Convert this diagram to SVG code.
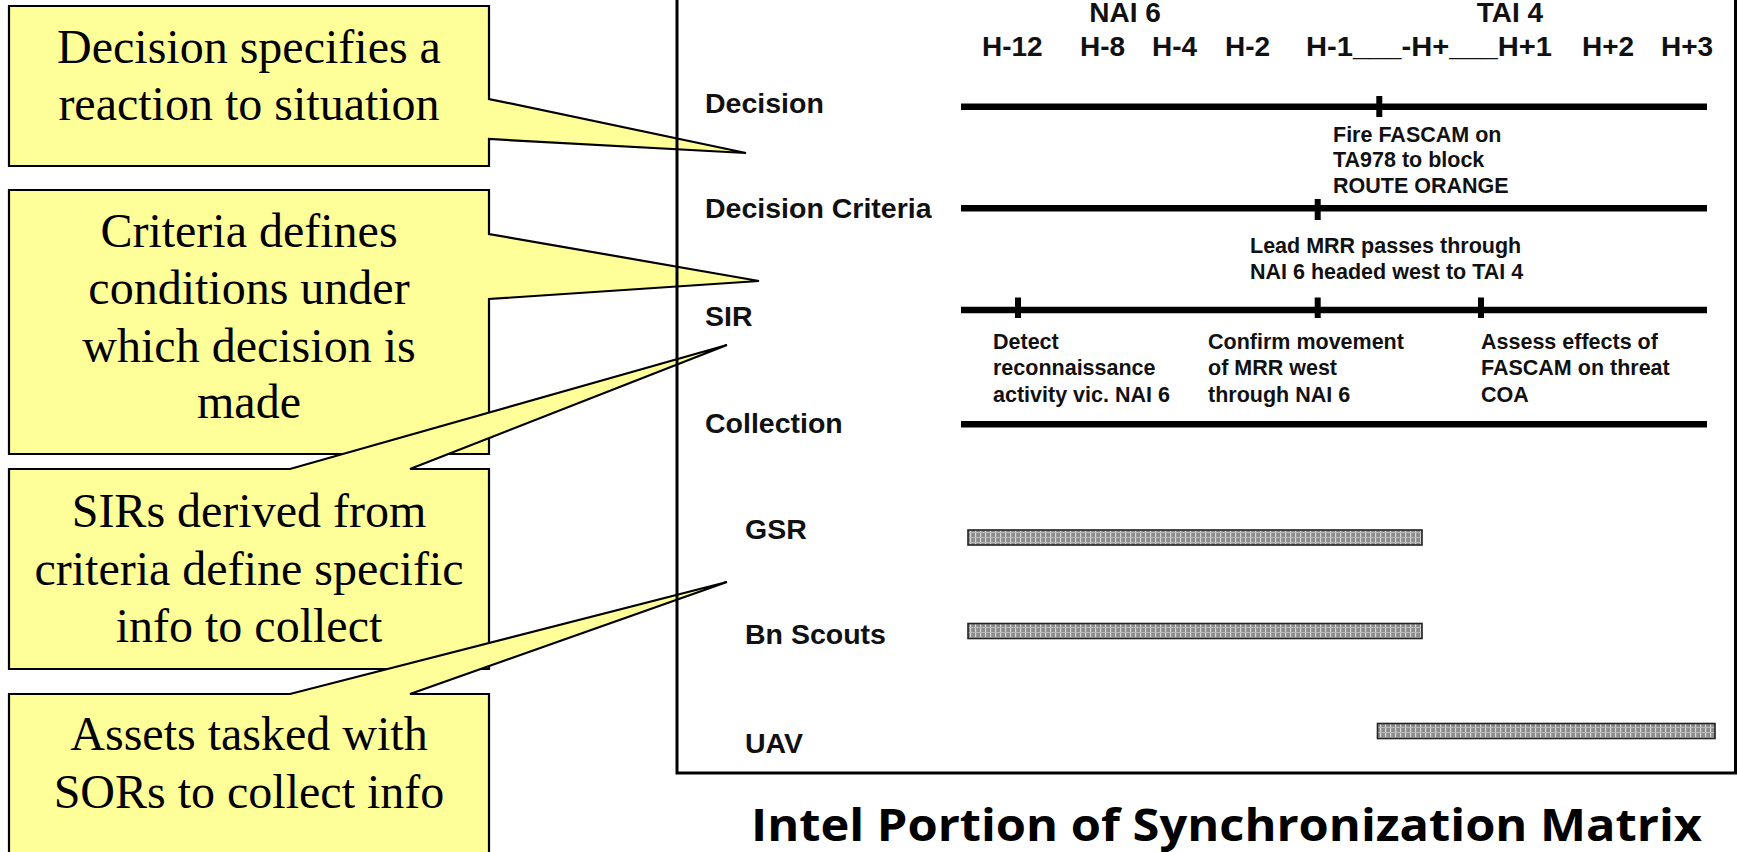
<svg xmlns="http://www.w3.org/2000/svg" width="1737" height="852" viewBox="0 0 1737 852">
<style>
.callout{fill:#FFFF99;stroke:#000;stroke-width:2.2;stroke-linejoin:miter}
.ct{font-family:"Liberation Serif","Times New Roman",serif;font-size:48px;fill:#000;text-anchor:middle}
.lbl{font-family:"Liberation Sans",Arial,sans-serif;font-weight:bold;font-size:28.5px;fill:#111}
.hdr{font-family:"Liberation Sans",Arial,sans-serif;font-weight:bold;font-size:28px;fill:#111}
.ann{font-family:"Liberation Sans",Arial,sans-serif;font-weight:bold;font-size:21.5px;fill:#111}
.tl{stroke:#000;stroke-width:6.5;fill:none}
.tick{stroke:#000;stroke-width:6;fill:none}
.bar{fill:url(#hatch);stroke:#222;stroke-width:1.6}
.title{font-family:"Open Sans","Noto Sans","DejaVu Sans",sans-serif;font-weight:bold;font-size:44px;fill:#000}
</style>
<defs>
<pattern id="hatch" patternUnits="userSpaceOnUse" width="5" height="5">
<rect width="5" height="5" fill="#8c8c8c"/>
<rect x="0" y="0" width="1.2" height="5" fill="#d8d8d8"/>
<rect x="0" y="2" width="5" height="1" fill="#b8b8b8"/>
</pattern>
</defs>
<rect width="1737" height="852" fill="#fff"/>

<g id="callout-decision">
<path class="callout" d="M9 6 H489 V99 L746 153 L489 139 V166 H9 Z"/>
<text class="ct" x="249" y="63">Decision specifies a</text>
<text class="ct" x="249" y="120">reaction to situation</text>
</g>
<g id="callout-criteria">
<path class="callout" d="M9 190 H489 V234 L759 281 L489 299 V454 H9 Z"/>
<text class="ct" x="249" y="247">Criteria defines</text>
<text class="ct" x="249" y="304">conditions under</text>
<text class="ct" x="249" y="362">which decision is</text>
<text class="ct" x="249" y="418">made</text>
</g>
<g id="callout-sir">
<path class="callout" d="M9 469 H290 L727 345 L410 469 H489 V669 H9 Z"/>
<text class="ct" x="249" y="527">SIRs derived from</text>
<text class="ct" x="249" y="585">criteria define specific</text>
<text class="ct" x="249" y="642">info to collect</text>
</g>
<g id="callout-assets">
<path class="callout" d="M9 694 H290 L727 582 L410 694 H489 V880 H9 Z"/>
<text class="ct" x="249" y="750">Assets tasked with</text>
<text class="ct" x="249" y="808">SORs to collect info</text>
</g>

<g id="matrix-frame">
<rect x="677" y="-10" width="1058.5" height="783" fill="none" stroke="#000" stroke-width="3"/>
</g>

<g id="header">
<text class="hdr" x="1125" y="21.5" text-anchor="middle">NAI 6</text>
<text class="hdr" x="1510" y="21.5" text-anchor="middle">TAI 4</text>
<text class="hdr" x="982" y="56">H-12</text>
<text class="hdr" x="1080" y="56">H-8</text>
<text class="hdr" x="1152" y="56">H-4</text>
<text class="hdr" x="1225" y="56">H-2</text>
<text class="hdr" x="1306" y="56" textLength="246" lengthAdjust="spacingAndGlyphs">H-1___-H+___H+1</text>
<text class="hdr" x="1582" y="56">H+2</text>
<text class="hdr" x="1661" y="56">H+3</text>
</g>

<g id="row-labels">
<text class="lbl" x="705" y="113">Decision</text>
<text class="lbl" x="705" y="218">Decision Criteria</text>
<text class="lbl" x="705" y="326">SIR</text>
<text class="lbl" x="705" y="433">Collection</text>
<text class="lbl" x="745" y="539">GSR</text>
<text class="lbl" x="745" y="644">Bn Scouts</text>
<text class="lbl" x="745" y="753">UAV</text>
</g>

<g id="connectors">
<line class="tl" x1="961" y1="106.7" x2="1707" y2="106.7"/>
<line class="tick" x1="1379.3" y1="96" x2="1379.3" y2="117"/>
<line class="tl" x1="961" y1="208.3" x2="1707" y2="208.3"/>
<line class="tick" x1="1317.7" y1="199" x2="1317.7" y2="220"/>
<line class="tl" x1="961" y1="310" x2="1707" y2="310"/>
<line class="tick" x1="1018" y1="297.5" x2="1018" y2="318"/>
<line class="tick" x1="1317.7" y1="297.5" x2="1317.7" y2="318"/>
<line class="tick" x1="1481" y1="297.5" x2="1481" y2="318"/>
<line class="tl" x1="961" y1="424.3" x2="1707" y2="424.3"/>
</g>

<g id="decision-note">
<text class="ann" x="1333" y="141.5">Fire FASCAM on</text>
<text class="ann" x="1333" y="167">TA978 to block</text>
<text class="ann" x="1333" y="193">ROUTE ORANGE</text>
</g>
<g id="criteria-note">
<text class="ann" x="1250" y="252.5">Lead MRR passes through</text>
<text class="ann" x="1250" y="278.5">NAI 6 headed west to TAI 4</text>
</g>
<g id="sir-note-1">
<text class="ann" x="993" y="349">Detect</text>
<text class="ann" x="993" y="375">reconnaissance</text>
<text class="ann" x="993" y="401.5">activity vic. NAI 6</text>
</g>
<g id="sir-note-2">
<text class="ann" x="1208" y="349">Confirm movement</text>
<text class="ann" x="1208" y="375">of MRR west</text>
<text class="ann" x="1208" y="401.5">through NAI 6</text>
</g>
<g id="sir-note-3">
<text class="ann" x="1481" y="349">Assess effects of</text>
<text class="ann" x="1481" y="375">FASCAM on threat</text>
<text class="ann" x="1481" y="401.5">COA</text>
</g>

<g id="bar-gsr"><rect class="bar" x="968" y="530" width="454" height="15"/></g>
<g id="bar-bn-scouts"><rect class="bar" x="968" y="623.5" width="454" height="15"/></g>
<g id="bar-uav"><rect class="bar" x="1377.5" y="723.5" width="337.5" height="15"/></g>

<g id="title">
<text class="title" x="751" y="841" textLength="951" lengthAdjust="spacingAndGlyphs">Intel Portion of Synchronization Matrix</text>
</g>
</svg>
